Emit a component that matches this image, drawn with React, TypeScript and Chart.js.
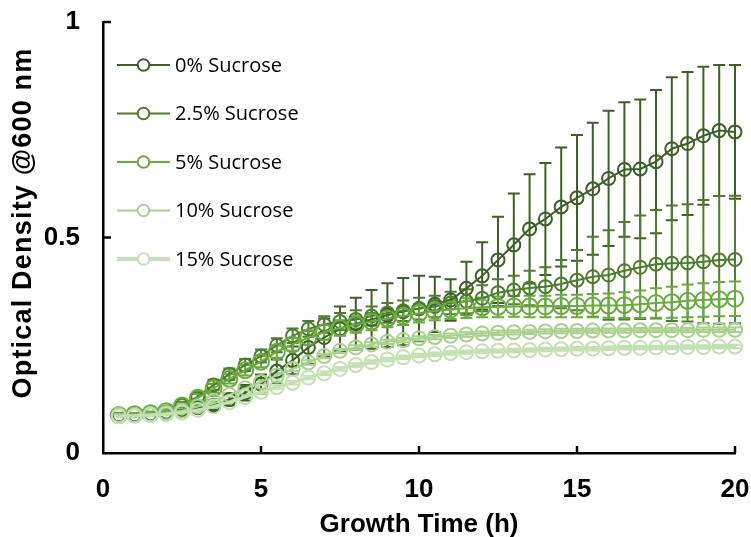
import React, { useEffect, useRef } from "react";
import { Chart, registerables } from "chart.js";

Chart.register(...registerables);

const times = [0.5, 1, 1.5, 2, 2.5, 3, 3.5, 4, 4.5, 5, 5.5, 6, 6.5, 7, 7.5, 8, 8.5, 9, 9.5, 10, 10.5, 11, 11.5, 12, 12.5, 13, 13.5, 14, 14.5, 15, 15.5, 16, 16.5, 17, 17.5, 18, 18.5, 19, 19.5, 20];

const seriesLabels = ["0% Sucrose", "2.5% Sucrose", "5% Sucrose", "10% Sucrose", "15% Sucrose"];

const od0 = [0.088, 0.088, 0.090, 0.093, 0.100, 0.105, 0.110, 0.124, 0.140, 0.160, 0.190, 0.215, 0.245, 0.268, 0.288, 0.300, 0.310, 0.320, 0.328, 0.335, 0.345, 0.355, 0.382, 0.411, 0.448, 0.483, 0.520, 0.543, 0.571, 0.592, 0.613, 0.637, 0.658, 0.659, 0.676, 0.706, 0.718, 0.736, 0.748, 0.745];
const err0 = [0.004, 0.004, 0.004, 0.005, 0.006, 0.008, 0.010, 0.014, 0.018, 0.022, 0.027, 0.032, 0.038, 0.044, 0.052, 0.060, 0.068, 0.074, 0.078, 0.076, 0.064, 0.048, 0.062, 0.078, 0.100, 0.119, 0.127, 0.130, 0.138, 0.146, 0.153, 0.157, 0.156, 0.161, 0.166, 0.166, 0.166, 0.160, 0.152, 0.155];

const od25 = [0.088, 0.088, 0.090, 0.095, 0.111, 0.131, 0.158, 0.183, 0.204, 0.225, 0.250, 0.272, 0.288, 0.298, 0.305, 0.310, 0.318, 0.325, 0.330, 0.335, 0.340, 0.348, 0.352, 0.359, 0.372, 0.378, 0.383, 0.386, 0.392, 0.401, 0.409, 0.413, 0.423, 0.431, 0.438, 0.440, 0.441, 0.444, 0.448, 0.449];
const err25 = [0.003, 0.003, 0.004, 0.005, 0.008, 0.010, 0.012, 0.013, 0.014, 0.015, 0.016, 0.017, 0.018, 0.019, 0.020, 0.021, 0.022, 0.023, 0.024, 0.025, 0.025, 0.026, 0.028, 0.030, 0.031, 0.033, 0.040, 0.045, 0.056, 0.070, 0.093, 0.104, 0.113, 0.120, 0.126, 0.134, 0.136, 0.143, 0.148, 0.148];

const od5 = [0.088, 0.090, 0.092, 0.097, 0.110, 0.128, 0.150, 0.172, 0.192, 0.212, 0.235, 0.252, 0.268, 0.280, 0.290, 0.298, 0.305, 0.312, 0.318, 0.324, 0.330, 0.333, 0.336, 0.338, 0.339, 0.340, 0.340, 0.340, 0.341, 0.341, 0.342, 0.342, 0.343, 0.345, 0.348, 0.350, 0.353, 0.355, 0.357, 0.358];
const err5 = [0.003, 0.003, 0.004, 0.005, 0.007, 0.009, 0.010, 0.011, 0.012, 0.013, 0.014, 0.015, 0.016, 0.017, 0.018, 0.019, 0.020, 0.020, 0.021, 0.021, 0.022, 0.022, 0.023, 0.023, 0.024, 0.024, 0.025, 0.025, 0.026, 0.026, 0.027, 0.028, 0.030, 0.032, 0.034, 0.036, 0.038, 0.039, 0.040, 0.040];

const od10 = [0.088, 0.088, 0.090, 0.093, 0.098, 0.108, 0.120, 0.135, 0.150, 0.165, 0.180, 0.195, 0.210, 0.225, 0.237, 0.245, 0.252, 0.258, 0.262, 0.266, 0.269, 0.272, 0.275, 0.277, 0.279, 0.280, 0.281, 0.282, 0.283, 0.283, 0.284, 0.284, 0.284, 0.285, 0.285, 0.285, 0.285, 0.286, 0.286, 0.286];
const err10 = [0.002, 0.002, 0.002, 0.003, 0.003, 0.003, 0.004, 0.004, 0.004, 0.004, 0.005, 0.005, 0.005, 0.005, 0.005, 0.005, 0.005, 0.005, 0.005, 0.005, 0.005, 0.005, 0.005, 0.005, 0.005, 0.005, 0.005, 0.005, 0.005, 0.005, 0.005, 0.005, 0.005, 0.005, 0.005, 0.005, 0.005, 0.005, 0.005, 0.005];

const od15 = [0.085, 0.086, 0.088, 0.090, 0.094, 0.100, 0.108, 0.118, 0.130, 0.142, 0.153, 0.163, 0.175, 0.185, 0.195, 0.204, 0.211, 0.217, 0.222, 0.226, 0.229, 0.232, 0.234, 0.236, 0.237, 0.238, 0.239, 0.240, 0.241, 0.242, 0.242, 0.243, 0.244, 0.244, 0.245, 0.245, 0.246, 0.246, 0.247, 0.247];
const err15 = [0.002, 0.002, 0.002, 0.002, 0.003, 0.003, 0.003, 0.003, 0.004, 0.004, 0.004, 0.004, 0.004, 0.004, 0.004, 0.004, 0.004, 0.004, 0.004, 0.004, 0.004, 0.004, 0.004, 0.004, 0.004, 0.004, 0.004, 0.004, 0.004, 0.004, 0.004, 0.004, 0.004, 0.004, 0.004, 0.004, 0.004, 0.004, 0.004, 0.004];

const seriesValues = [od0, od25, od5, od10, od15];
const seriesErrors = [err0, err25, err5, err10, err15];
const seriesColors = ["#3D6026", "#4E7D2F", "#6AAB3E", "#A9D18E", "#C5E0B4"];
const pointRadii = [6.5, 6.5, 8, 7, 7];
const lineWidths = [2, 2, 2, 2, 4];

const xTickValues = [0, 5, 10, 15, 20];
const yTickValues = [0, 0.5, 1];
const yTickLabels = ["0", "0.5", "1"];

const xTitle = "Growth Time (h)";
const yTitle = "Optical Density @600 nm";

const AXIS_FONT = "'Liberation Sans', Arial, sans-serif";
const LEGEND_FONT = "'Open Sans', sans-serif";

const errorBarPlugin = {
  id: "errorBars",
  beforeDatasetsDraw(chart: any) {
    const ctx = chart.ctx;
    const xs = chart.scales.x;
    const ys = chart.scales.y;
    ctx.save();
    chart.data.datasets.forEach((ds: any) => {
      const errs: number[] = ds.errors;
      ctx.strokeStyle = ds.borderColor;
      ctx.lineWidth = 2;
      ds.data.forEach((p: any, j: number) => {
        const e = errs[j];
        const px = xs.getPixelForValue(p.x);
        const top = ys.getPixelForValue(p.y + e);
        const bot = ys.getPixelForValue(p.y - e);
        ctx.beginPath();
        ctx.moveTo(px, top);
        ctx.lineTo(px, bot);
        ctx.moveTo(px - 6, top);
        ctx.lineTo(px + 6, top);
        ctx.moveTo(px - 6, bot);
        ctx.lineTo(px + 6, bot);
        ctx.stroke();
      });
    });
    ctx.restore();
  },
};

const innerTicksPlugin = {
  id: "innerTicks",
  afterDraw(chart: any) {
    const ctx = chart.ctx;
    const xs = chart.scales.x;
    const ys = chart.scales.y;
    const area = chart.chartArea;
    ctx.save();
    ctx.strokeStyle = "#000";
    ctx.lineWidth = 2.5;
    ctx.beginPath();
    xTickValues.forEach((v) => {
      if (v === 0) return;
      const px = xs.getPixelForValue(v);
      ctx.moveTo(px, area.bottom);
      ctx.lineTo(px, area.bottom - 7);
    });
    yTickValues.forEach((v) => {
      if (v === 0) return;
      const py = ys.getPixelForValue(v);
      ctx.moveTo(area.left, py);
      ctx.lineTo(area.left + 8, py);
    });
    ctx.stroke();

    // rotated y-axis title
    ctx.fillStyle = "#000";
    ctx.font = `bold 27px ${AXIS_FONT}`;
    try {
      (ctx as any).letterSpacing = "1.2px";
    } catch (e) {
      /* ignore */
    }
    ctx.textAlign = "center";
    ctx.textBaseline = "middle";
    ctx.translate(24, 223);
    ctx.rotate(-Math.PI / 2);
    ctx.fillText(yTitle, 0, 0);
    ctx.restore();
  },
};

const legendPlugin = {
  id: "insideLegend",
  afterDraw(chart: any) {
    const ctx = chart.ctx;
    ctx.save();
    chart.data.datasets.forEach((ds: any, i: number) => {
      const y = 65 + i * 48.5;
      ctx.strokeStyle = ds.borderColor;
      ctx.lineWidth = lineWidths[i];
      ctx.beginPath();
      ctx.moveTo(117, y);
      ctx.lineTo(170, y);
      ctx.stroke();
      ctx.fillStyle = "#fff";
      ctx.lineWidth = 2;
      ctx.beginPath();
      ctx.arc(143.5, y, 5.8, 0, Math.PI * 2);
      ctx.fill();
      ctx.stroke();
      ctx.fillStyle = "#000";
      ctx.font = `20px ${LEGEND_FONT}`;
      ctx.textAlign = "left";
      ctx.textBaseline = "middle";
      ctx.fillText(ds.label, 175, y + 1);
    });
    ctx.restore();
  },
};

const noOverflowPadding = (scale: any) => {
  scale.paddingTop = 0;
  scale.paddingBottom = 0;
  scale.paddingLeft = 0;
  scale.paddingRight = 0;
};

export default function App() {
  const canvasRef = useRef<HTMLCanvasElement | null>(null);

  useEffect(() => {
    const canvas = canvasRef.current;
    if (!canvas) return;
    const datasets = seriesLabels.map((label, i) => ({
      label,
      data: times.map((t, j) => ({ x: t, y: seriesValues[i][j] })),
      errors: seriesErrors[i],
      borderColor: seriesColors[i],
      backgroundColor: "transparent",
      borderWidth: lineWidths[i] > 2 ? 3 : 2,
      showLine: true,
      pointStyle: "circle",
      pointRadius: pointRadii[i],
      pointBorderWidth: 2,
      pointBorderColor: seriesColors[i],
      pointBackgroundColor: "transparent",
      order: seriesLabels.length - i,
      clip: false,
      tension: 0,
    }));

    const chart = new Chart(canvas, {
      type: "scatter",
      data: { datasets } as any,
      plugins: [errorBarPlugin, innerTicksPlugin, legendPlugin],
      options: {
        animation: false,
        responsive: false,
        maintainAspectRatio: false,
        layout: { padding: { top: 22, right: 16, bottom: 0, left: 0 } },
        plugins: {
          legend: { display: false },
          tooltip: { enabled: false },
        },
        scales: {
          x: {
            type: "linear",
            min: 0,
            max: 20,
            afterFit: (scale: any) => {
              scale.height = 84;
              noOverflowPadding(scale);
            },
            afterBuildTicks: (scale: any) => {
              scale.ticks = xTickValues.map((v) => ({ value: v }));
            },
            grid: { display: false, drawTicks: false },
            border: { display: true, color: "#000", width: 2.5 },
            ticks: {
              padding: 21,
              color: "#000",
              font: { family: AXIS_FONT, size: 26, weight: "bold" },
            },
            title: {
              display: true,
              text: xTitle,
              color: "#000",
              font: { family: AXIS_FONT, size: 26, weight: "bold" },
              padding: { top: 0, bottom: -3 },
            },
          },
          y: {
            type: "linear",
            min: 0,
            max: 1,
            afterFit: (scale: any) => {
              scale.width = 103;
              noOverflowPadding(scale);
            },
            afterBuildTicks: (scale: any) => {
              scale.ticks = yTickValues.map((v) => ({ value: v }));
            },
            grid: { display: false, drawTicks: false },
            border: { display: true, color: "#000", width: 2.5 },
            ticks: {
              padding: 23,
              color: "#000",
              font: { family: AXIS_FONT, size: 26, weight: "bold" },
              callback: (value: number) => {
                const idx = yTickValues.indexOf(value);
                return idx >= 0 ? yTickLabels[idx] : "";
              },
            },
          },
        },
      } as any,
    });
    return () => chart.destroy();
  }, []);

  return (
    <div style={{ position: "fixed", left: 0, top: 0, width: 751, height: 537, background: "#fff" }}>
      <canvas ref={canvasRef} width={751} height={537} style={{ display: "block", width: 751, height: 537 }} />
    </div>
  );
}
